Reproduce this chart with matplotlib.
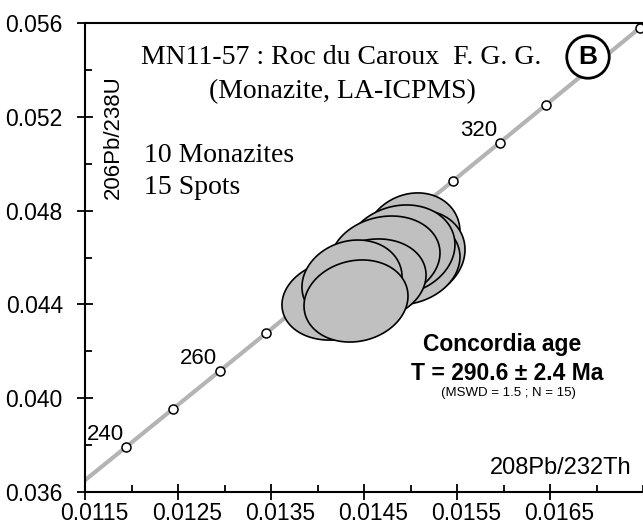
import numpy as np
import matplotlib
matplotlib.use("Agg")
import matplotlib.pyplot as plt
from matplotlib.ticker import MultipleLocator, FixedLocator
from matplotlib.transforms import ScaledTranslation

# concordia (208Pb/232Th vs 206Pb/238U), age marks in Ma
conc_age = [230, 240, 250, 260, 270, 280, 290, 300, 310, 320, 330, 340, 350, 360]
conc_x = [0.011444, 0.011945, 0.012446, 0.012947, 0.013448, 0.013949, 0.014451,
          0.014953, 0.015456, 0.015958, 0.016461, 0.016964, 0.017467, 0.017971]
conc_y = [0.036323, 0.037932, 0.039543, 0.041157, 0.042773, 0.044392, 0.046013,
          0.047637, 0.049263, 0.050893, 0.052524, 0.054158, 0.055795, 0.057433]
label_ages = [240, 260, 320]

# spot error ellipses: centre, half-extent in x and y, correlation
ell_x = [0.015016, 0.015027, 0.014941, 0.014887, 0.014726, 0.014199, 0.014586, 0.014371, 0.014414]
ell_y = [0.046874, 0.046107, 0.045808, 0.046320, 0.045979, 0.044188, 0.045041, 0.044955, 0.044145]
ell_a = [0.000516, 0.000559, 0.000591, 0.000591, 0.000591, 0.000581, 0.000581, 0.000538, 0.000559]
ell_b = [0.00188, 0.00192, 0.00183, 0.00192, 0.00179, 0.00171, 0.00175, 0.00179, 0.00175]
ell_rho = [0.12, 0.12, 0.12, 0.12, 0.12, 0.12, 0.12, 0.12, 0.12]

xticks = [0.0115, 0.0125, 0.0135, 0.0145, 0.0155, 0.0165]
yticks = [0.036, 0.040, 0.044, 0.048, 0.052, 0.056]

SANS = "Liberation Sans"
SERIF = "Liberation Serif"
plt.rcParams["font.family"] = SANS

fig = plt.figure(figsize=(6.43, 5.27), dpi=100)
ax = fig.add_axes([85/643, 35/527, 558/643, 469/527])
ax.set_xlim(0.0115, 0.0175)
ax.set_ylim(0.036, 0.056)

# concordia curve + age markers
ax.plot(conc_x, conc_y, color="#b4b4b4", lw=3, zorder=1, solid_capstyle="butt")
mk = [(x, y) for a, x, y in zip(conc_age, conc_x, conc_y) if 240 <= a <= 350]
ax.plot([p[0] for p in mk], [p[1] for p in mk], "o", ms=6.5, mfc="white",
        mec="black", mew=1.1, ls="none", zorder=2)
for a in label_ages:
    i = conc_age.index(a)
    ax.annotate(str(a), (conc_x[i], conc_y[i]), xytext=(-2, 9), textcoords="offset points",
                ha="right", va="center", fontsize=16, zorder=2)

# ellipses
t = np.linspace(0, 2*np.pi, 200)
for k in range(len(ell_x)):
    ex = ell_x[k] + ell_a[k]*np.cos(t)
    ey = ell_y[k] + ell_b[k]*(ell_rho[k]*np.cos(t) + np.sqrt(1-ell_rho[k]**2)*np.sin(t))
    ax.fill(ex, ey, fc="#c0c0c0", ec="black", lw=1.2, zorder=3+k)

# axes styling
for s in ["left", "bottom", "top"]:
    ax.spines[s].set_linewidth(1.5)
ax.spines["right"].set_visible(False)
ax.xaxis.set_major_locator(FixedLocator(xticks))
ax.yaxis.set_major_locator(FixedLocator(yticks))
ax.xaxis.set_minor_locator(MultipleLocator(0.0005))
ax.yaxis.set_minor_locator(MultipleLocator(0.002))
ax.set_xticklabels([f"{v:.4f}" for v in xticks])
ax.set_yticklabels([f"{v:.3f}" for v in yticks])
ax.tick_params(which="major", direction="inout", length=12, width=1.3, labelsize=16.5)
ax.tick_params(axis="x", which="major", pad=1)
ax.tick_params(axis="y", which="major", pad=10)
ax.tick_params(which="minor", direction="in", length=5, width=1.3)
ax.tick_params(top=False, right=False, which="both")
for lab in ax.get_xticklabels():
    lab.set_transform(lab.get_transform() + ScaledTranslation(9/100, 0, fig.dpi_scale_trans))

# texts
def ft(px, py, s, **kw):
    fig.text(px/643, 1 - py/527, s, **kw)

ft(341, 58, "MN11-57 : Roc du Caroux  F. G. G.", family=SERIF, fontsize=20, ha="center", va="center")
ft(342, 92, "(Monazite, LA-ICPMS)", family=SERIF, fontsize=20, ha="center", va="center")
ft(144, 155, "10 Monazites", family=SERIF, fontsize=20, ha="left", va="center")
ft(144, 188, "15 Spots", family=SERIF, fontsize=20, ha="left", va="center")
ft(588, 57, "B", fontsize=19, weight="bold", ha="center", va="center",
   bbox=dict(boxstyle="circle,pad=0.35", fc="white", ec="black", lw=2), zorder=20)
ft(113, 137, "206Pb/238U", fontsize=16, rotation=90, ha="center", va="center")
ft(561, 468, "208Pb/232Th", fontsize=17, ha="center", va="center")
ft(502, 345, "Concordia age", fontsize=16.5, weight="bold", ha="center", va="center")
ft(507, 373, "T = 290.6 ± 2.4 Ma", fontsize=16.5, weight="bold", ha="center", va="center")
ft(508, 393, "(MSWD = 1.5 ; N = 15)", fontsize=9.5, ha="center", va="center")

fig.savefig("out.png", dpi=100)
